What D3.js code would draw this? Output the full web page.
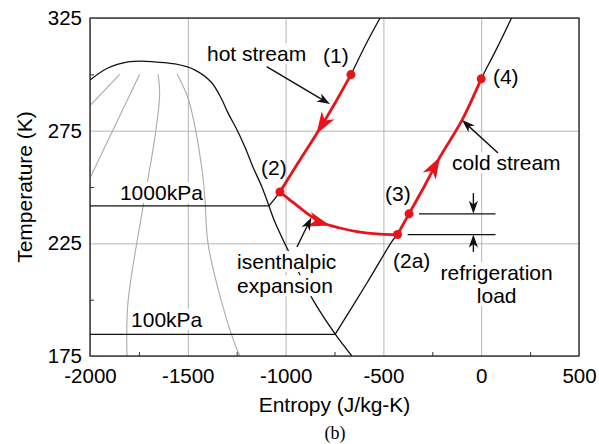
<!DOCTYPE html>
<html lang="en">
<head>
<meta charset="UTF-8">
<title>T-s diagram</title>
<script src="https://cdn.jsdelivr.net/npm/d3@7"></script>
<style>
  body { margin: 0; background: #fff; }
  text { font-family: "Liberation Sans", Arial, sans-serif; fill: #000; }
</style>
</head>
<body>
<svg id="chart" width="599" height="444"></svg>
<script>
// ticks
var xTicks = [-2000, -1500, -1000, -500, 0, 500];
var xMinor = [-1750, -1250, -750, -250, 250];
var yTicks = [175, 225, 275, 325];
var yMinor = [200, 250, 300];

// saturation dome, [entropy J/kg-K, temperature K]
var dome = [[-2000, 297.5], [-1908, 302.8], [-1806, 305.5], [-1734, 305.9], [-1668, 305.5],
  [-1565, 304.6], [-1463, 301.9], [-1381, 296.6], [-1330, 289.5], [-1294, 282.8],
  [-1248, 275.3], [-1208, 267.7], [-1167, 258.9], [-1121, 250.0], [-1085, 241.6],
  [-1059, 235.4], [-988, 222.0], [-860, 199.9], [-747, 184.8], [-661, 175.0]];

// quality lines inside the dome (grey)
var quality = [
  [[-1848, 300.0], [-2000, 286.1]],
  [[-1746, 300.0], [-2000, 254.0]],
  [[-1652, 300.1], [-1644, 290.8], [-1669, 271.7], [-1703, 254.0], [-1729, 241.1], [-1806, 198.5], [-1811, 175]],
  [[-1555, 300.1], [-1499, 289.5], [-1458, 274.4], [-1433, 261.1], [-1422, 254.0], [-1412, 244.2],
   [-1397, 225.1], [-1330, 199.9], [-1254, 179.0], [-1233, 175]]
];

// isobars
var p1000flat = [[-2000, 241.6], [-1085, 241.6]];
var p1000 = [[-1085, 241.6], [-1029, 247.8], [-937, 260.6], [-839, 274.0], [-753, 286.4],
  [-666, 299.9], [-594, 312.6], [-517, 325]];
var p100flat = [[-2000, 184.6], [-747, 184.6]];
var p100 = [[-747, 184.6], [-584, 207.4], [-451, 226.5], [-428, 228.9], [-369, 238.1],
  [-287, 250.9], [-211, 263.3], [-98, 279.7], [0, 298], [78, 311.2], [155, 325]];

// process streams (red)
var hotStream = [[-666, 299.9], [-753, 286.4], [-839, 274.0], [-937, 260.6], [-1029, 247.8]];
var expansion = [[-1029, 247.8], [-977, 244.2], [-926, 240.7], [-866, 236.8], [-809, 234.0],
  [-722, 231.8], [-636, 230.2], [-517, 229.1], [-428, 228.9]];
var coldStream = [[-428, 228.9], [-369, 238.1], [-287, 250.9], [-211, 263.3], [-98, 279.7], [0, 298]];

var statePts = [[-666, 299.9], [-1029, 247.8], [-428, 228.9], [-369, 238.1], [0, 298]];
var stateNames = ["(1)", "(2)", "(2a)", "(3)", "(4)"];
var stateLabelAt = [[-809, 305.0], [-1126, 255.3], [-451, 214.0], [-492, 243.8], [60, 295.7]];

// text notes
var notes = [
  {t: "hot stream", s: -1402, T: 305.9, a: "start"},
  {t: "cold stream", s: -149, T: 257.5, a: "start"},
  {t: "1000kPa", s: -1847, T: 244.2, a: "start"},
  {t: "100kPa", s: -1790, T: 187.9, a: "start"},
  {t: "isenthalpic", s: -1248, T: 213.6, a: "start"},
  {t: "expansion", s: -1248, T: 202.9, a: "start"},
  {t: "refrigeration", s: 79, T: 208.7, a: "middle"},
  {t: "load", s: 79, T: 198.5, a: "middle"}
];
// pointer arrows [from, to]
var pointers = [
  [[-1097, 303.4], [-773, 286.8]],
  [[-942, 223.4], [-868, 236.5]],
  [[86, 265.1], [-98, 279.7]],
  [[-40, 247.3], [-40, 238.1]],
  [[-40, 221.2], [-40, 228.9]]
];
var loadLines = [[[-318, 238.1], [73, 238.1]], [[-376, 228.9], [73, 228.9]]];

var svg = d3.select("#chart");
var x = d3.scaleLinear().domain([-2000, 500]).range([90, 579]);
var y = d3.scaleLinear().domain([175, 325]).range([356, 18]);
var W = 489, H = 338;
var plain = function (d) { return String(d); };

svg.append("clipPath").attr("id", "plot_clip")
  .append("rect").attr("x", 90).attr("y", 18).attr("width", W).attr("height", H);

// grid
svg.append("g").attr("transform", "translate(0,356)")
  .call(d3.axisBottom(x).tickValues(xTicks).tickSize(-H).tickFormat(""))
  .call(function (g) { g.select(".domain").remove(); g.selectAll("line").attr("stroke", "#b5b5b5"); });
svg.append("g").attr("transform", "translate(90,0)")
  .call(d3.axisLeft(y).tickValues(yTicks).tickSize(-W).tickFormat(""))
  .call(function (g) { g.select(".domain").remove(); g.selectAll("line").attr("stroke", "#b5b5b5"); });

// minor ticks
svg.append("g").attr("transform", "translate(0,356)")
  .call(d3.axisBottom(x).tickValues(xMinor).tickSize(-4).tickFormat(""))
  .call(function (g) { g.select(".domain").remove(); g.selectAll("line").attr("stroke", "#333"); });
svg.append("g").attr("transform", "translate(90,0)")
  .call(d3.axisLeft(y).tickValues(yMinor).tickSize(-4).tickFormat(""))
  .call(function (g) { g.select(".domain").remove(); g.selectAll("line").attr("stroke", "#333"); });

// tick labels
svg.append("g").attr("transform", "translate(0,356)")
  .call(d3.axisBottom(x).tickValues(xTicks).tickSize(0).tickPadding(12).tickFormat(plain))
  .call(function (g) {
    g.select(".domain").remove();
    g.selectAll("text").attr("font-size", "20.5px").attr("font-family", "Liberation Sans, Arial, sans-serif").attr("fill", "#000");
  });
svg.append("g").attr("transform", "translate(90,0)")
  .call(d3.axisLeft(y).tickValues(yTicks).tickSize(0).tickPadding(8).tickFormat(plain))
  .call(function (g) {
    g.select(".domain").remove();
    g.selectAll("text").attr("font-size", "20.5px").attr("font-family", "Liberation Sans, Arial, sans-serif").attr("fill", "#000");
  });

var line = d3.line().x(function (d) { return x(d[0]); }).y(function (d) { return y(d[1]); });
var smooth = d3.line().curve(d3.curveCatmullRom.alpha(0.5))
  .x(function (d) { return x(d[0]); }).y(function (d) { return y(d[1]); });

var plot = svg.append("g").attr("clip-path", "url(#plot_clip)");

plot.selectAll(".qual").data(quality).enter().append("path")
  .attr("class", "qual").attr("d", smooth)
  .attr("fill", "none").attr("stroke", "#aaa").attr("stroke-width", 1.1);

plot.append("path").attr("d", smooth(dome))
  .attr("fill", "none").attr("stroke", "#111").attr("stroke-width", 1.3);

[p1000flat, p100flat].forEach(function (d) {
  plot.append("path").attr("d", line(d)).attr("fill", "none").attr("stroke", "#111").attr("stroke-width", 1.3);
});
[p1000, p100].forEach(function (d) {
  plot.append("path").attr("d", smooth(d)).attr("fill", "none").attr("stroke", "#111").attr("stroke-width", 1.3);
});

// labels with white backing
var noteG = svg.append("g");
notes.forEach(function (n) {
  var t = noteG.append("text")
    .attr("x", x(n.s)).attr("y", y(n.T))
    .attr("text-anchor", n.a).attr("font-size", "21px").text(n.t);
  var b = t.node().getBBox();
  noteG.insert("rect", "text").attr("x", b.x).attr("y", b.y + 1)
    .attr("width", b.width).attr("height", b.height - 2).attr("fill", "#fff");
});

// refrigeration load bars
svg.selectAll(".load").data(loadLines).enter().append("path")
  .attr("class", "load").attr("d", line).attr("stroke", "#111").attr("stroke-width", 1.2);

// red streams
var red = "#e8141c";
function arrowPath(tip, ang, len, hw) {
  var c = Math.cos(ang), s = Math.sin(ang);
  var bx = tip[0] - c * len, by = tip[1] - s * len;
  var nx = tip[0] - c * len * 0.72, ny = tip[1] - s * len * 0.72;
  return "M" + tip[0] + "," + tip[1] +
    "L" + (bx - s * hw) + "," + (by + c * hw) +
    "L" + nx + "," + ny +
    "L" + (bx + s * hw) + "," + (by - c * hw) + "Z";
}

[[hotStream, 0.5], [expansion, 0.47], [coldStream, 0.5]].forEach(function (d) {
  var p = svg.append("path").attr("d", smooth(d[0]))
    .attr("fill", "none").attr("stroke", red).attr("stroke-width", 2.8);
  var node = p.node(), L = node.getTotalLength();
  var a = node.getPointAtLength(L * d[1]), b = node.getPointAtLength(L * d[1] - 2);
  var ang = Math.atan2(a.y - b.y, a.x - b.x);
  svg.append("path").attr("d", arrowPath([a.x, a.y], ang, 22, 7.5)).attr("fill", red);
});

svg.selectAll(".state").data(statePts).enter().append("circle")
  .attr("class", "state")
  .attr("cx", function (d) { return x(d[0]); }).attr("cy", function (d) { return y(d[1]); })
  .attr("r", 4.5).attr("fill", red);

svg.selectAll(".stlab").data(stateNames).enter().append("text")
  .attr("class", "stlab")
  .attr("x", function (d, i) { return x(stateLabelAt[i][0]); })
  .attr("y", function (d, i) { return y(stateLabelAt[i][1]); })
  .attr("font-size", "21px").text(function (d) { return d; });

// pointer arrows
pointers.forEach(function (d) {
  var p0 = [x(d[0][0]), y(d[0][1])], p1 = [x(d[1][0]), y(d[1][1])];
  var ang = Math.atan2(p1[1] - p0[1], p1[0] - p0[0]);
  svg.append("line").attr("x1", p0[0]).attr("y1", p0[1])
    .attr("x2", p1[0] - Math.cos(ang) * 6).attr("y2", p1[1] - Math.sin(ang) * 6)
    .attr("stroke", "#111").attr("stroke-width", 1.4);
  svg.append("path").attr("d", arrowPath(p1, ang, 13, 4.6)).attr("fill", "#111");
});

// frame
svg.append("rect").attr("x", 90).attr("y", 18).attr("width", W).attr("height", H)
  .attr("fill", "none").attr("stroke", "#222").attr("stroke-width", 1.3);

// titles
svg.append("text").attr("x", 334.5).attr("y", 412).attr("text-anchor", "middle")
  .attr("font-size", "21px").text("Entropy (J/kg-K)");
svg.append("text").attr("transform", "translate(32,187) rotate(-90)").attr("text-anchor", "middle")
  .attr("font-size", "21px").text("Temperature (K)");
svg.append("text").attr("x", 335).attr("y", 439).attr("text-anchor", "middle")
  .attr("font-size", "18px").style("font-family", "Liberation Serif, Times New Roman, serif").text("(b)");
</script>
</body>
</html>
